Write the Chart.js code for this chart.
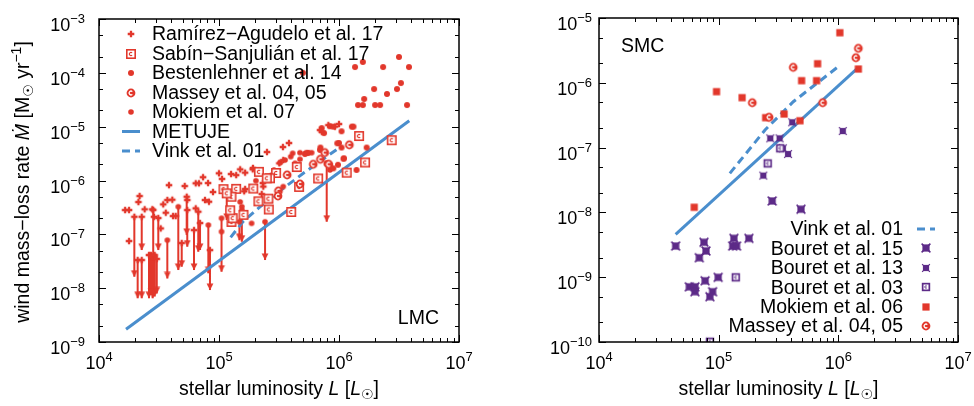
<!DOCTYPE html>
<html>
<head>
<meta charset="utf-8">
<script src="https://cdn.jsdelivr.net/npm/chart.js@4/dist/chart.umd.min.js"></script>
<style>
  html, body { margin: 0; padding: 0; background: #fff; }
  #wrap { position: relative; width: 974px; height: 406px; }
  canvas { position: absolute; top: 0; }
</style>
</head>
<body>
<div id="wrap">
  <canvas id="lmc" width="487" height="406" style="left:0"></canvas>
  <canvas id="smc" width="487" height="406" style="left:487px"></canvas>
</div>
<script>
// ---- axes ----
const xTicks = [1e4, 1e5, 1e6, 1e7];
const lmcYTicks = [1e-9, 1e-8, 1e-7, 1e-6, 1e-5, 1e-4, 1e-3];
const smcYTicks = [1e-10, 1e-9, 1e-8, 1e-7, 1e-6, 1e-5];
const xMinorFactors = [2, 3, 4, 5, 6, 7, 8, 9];
const yMinorFactors = [2, 5];

// ---- LMC data [L, Mdot] ----
const lmcRamirez = [
  [1.65e4,2.83e-7],[1.78e4,2.83e-7],[1.78e4,7.5e-8],[2.18e4,5.15e-7],[2.13e4,3.98e-7],[2.4e4,2.92e-7],
  [2.78e4,2.92e-7],[2.87e4,2.12e-7],[3.27e4,1.29e-7],[3.43e4,3.61e-7],[3.6e4,2.52e-7],[3.83e4,8.2e-7],
  [3.71e4,4.34e-7],[4.08e4,4.4e-7],[4.14e4,2.19e-7],[4.36e4,2.19e-7],[5.18e4,7.9e-7],[5.44e4,4.34e-7],
  [6.4e4,8.87e-7],[6.81e4,8.87e-7],[7.36e4,1.15e-6],[7.64e4,4.34e-7],[6.4e4,3.04e-7],[8.25e4,4.04e-7],
  [1.0e5,1.36e-6],[1.06e5,1.07e-6],[1.26e5,1.32e-6],[1.5e5,1.61e-6],[1.65e5,1.4e-6],[1.62e5,6.3e-7],
  [1.65e5,6.95e-7],[1.91e5,1.61e-6],[2.27e5,5.6e-7],[2.34e5,7.7e-7],[2.32e5,8.98e-7],[2.51e5,3.38e-6],
  [3.18e5,2.09e-6],[3.43e5,2.4e-6],[3.83e5,4.97e-6],[3.41e5,4.19e-6],[7.18e5,8.06e-6],[6.95e5,8.67e-6],
  [8.15e5,1.07e-5],[9.26e5,1.0e-5],[1.0e6,1.12e-5],[8.91e4,6.1e-7],[8.1e4,8.98e-7],[1.39e5,1.26e-6],
  [1.92e5,1.71e-6],
  [1.97e4,2.12e-7],[2.1e4,3.33e-8],[2.27e4,2.12e-7],[2.27e4,3.33e-8],[2.61e4,4.13e-8],[2.71e4,4.13e-8],
  [2.8e4,3.8e-8],[2.91e4,4.13e-8],[3.03e4,3.5e-8],[2.83e4,2.83e-7],[3.12e4,2.01e-7],[4.89e4,6.9e-8],
  [5.38e4,5.0e-7],[5.44e4,2.83e-7],[6.19e4,1.2e-7],[6.72e4,2.63e-7],[6.95e4,1.62e-7],[8.41e4,5.1e-8]
];
const lmcSabin = [
  [2.15e5,1.45e-6],[2.99e5,1.38e-6],[2.66e5,1.1e-6],[4.45e5,1.78e-6],[6.7e5,1.09e-6],[4.65e5,7.6e-7],
  [4.0e5,2.6e-7],[2.6e5,2.9e-7],[2.13e5,4.1e-7],[1.93e5,7.1e-7],[1.39e5,7.0e-7],[1.09e5,6.9e-7],
  [1.27e5,1.7e-7],[1.3e5,2.0e-7],[1.6e5,2.3e-7],[2.58e5,4.6e-7],[1.27e5,5.0e-7],[1.24e5,2.8e-7],
  [1.16e6,1.4e-6],[1.65e6,2.16e-6],[1.47e6,6.7e-6],[2.75e6,5.6e-6],[1.16e5,5.78e-7],[2.5e5,1.1e-6]
];
const lmcBestenlehner = [
  [5.0e5,1.0e-4],[1.36e6,1.28e-4],[1.58e6,1.59e-4],[2.33e6,1.28e-4],[3.16e6,1.97e-4],[3.83e6,1.28e-4],
  [1.96e6,5.0e-5],[2.51e6,4.05e-5],[3.04e6,5.0e-5],[3.28e6,6.47e-5],[1.62e6,3.27e-5],[1.44e6,2.52e-5],
  [1.58e6,2.52e-5],[2.0e6,2.52e-5],[2.2e6,2.52e-5],[3.69e6,2.52e-5],
  [8.41e5,1.02e-5],[8.97e5,1.0e-5],[1.05e6,8.2e-6],[1.28e6,1.0e-5],[1.32e6,1.0e-5],[7.17e5,9.4e-6],
  [7.5e5,7.6e-6],[1.0e6,4.97e-6],[1.05e6,4.1e-6],[1.7e6,4.1e-6],[7.0e5,4.1e-6],[1.09e6,2.54e-6],
  [7.9e5,2.05e-6],[8.4e5,1.96e-6],[5.5e5,3.24e-6],[5.2e5,3.1e-6],[6.95e5,3.7e-6],[9.8e5,1.96e-6],
  [1.4e6,1.57e-6],[8.97e5,1.68e-6],[1.1e6,2.58e-6],[9.68e5,4.91e-6],[7.9e5,2.09e-6]
];
const lmcMassey = [
  [1.22e6,4.6e-6],[6.1e5,2.0e-6],[3.7e5,1.27e-6],[3.13e5,6.4e-7],[3.1e5,5.15e-7],[8.2e5,2.0e-6],
  [4.73e5,8.6e-7],[7.0e5,2.48e-6],[7.6e5,3.3e-6]
];
const lmcMokiem = [
  [2.03e5,9.9e-7],[2.75e5,1.26e-6],[2.87e5,1.57e-6],[3.22e5,2.14e-6],[3.55e5,2.4e-6],[3.96e5,2.77e-6],
  [4.3e5,2.09e-6],[4.73e5,3.28e-6],[5.31e5,3.28e-6],[5.55e5,3.28e-6],[5.92e5,3.28e-6],[4.11e5,3.2e-6],
  [4.73e5,2.48e-6],[8.41e5,1.57e-6],[2.66e5,1.17e-6],[3.43e5,7.7e-7],[4.57e5,8.2e-7],[4.73e5,7.7e-7],
  [1.87e5,1.6e-7],[1.55e5,3.26e-7],[1.05e5,1.12e-7],[3.71e4,7.8e-8],[4.58e4,3.26e-7],[8.15e4,1.49e-7],
  [1.05e5,1.99e-7],[1.48e5,1.71e-7],[1.55e5,2.83e-7],[2.42e5,1.71e-7],[1.2e5,2.83e-7],[1.5e5,4.0e-7]
];
// [L, upper end, arrow tip]
const lmcLimits = [
  [1.97e4,2.12e-7,1.63e-8],[2.1e4,3.33e-8,6.5e-9],[2.27e4,2.12e-7,5.1e-8],[2.27e4,3.33e-8,6.5e-9],
  [2.61e4,4.13e-8,6.5e-9],[2.71e4,4.13e-8,7.5e-9],[2.8e4,3.8e-8,6.5e-9],[2.91e4,4.13e-8,7.0e-9],
  [3.03e4,3.5e-8,8.0e-9],[2.83e4,2.83e-7,3.33e-8],[3.12e4,2.01e-7,5.1e-8],[3.71e4,7.8e-8,1.52e-8],
  [4.58e4,3.26e-7,2.17e-8],[4.89e4,6.9e-8,2.5e-8],[5.38e4,5.0e-7,9.7e-8],[5.44e4,2.83e-7,5.9e-8],
  [6.19e4,1.2e-7,2.17e-8],[6.72e4,2.63e-7,4.75e-8],[6.95e4,1.62e-7,5.1e-8],[8.15e4,1.49e-7,1.89e-8],
  [8.41e4,5.1e-8,9.2e-9],[1.05e5,1.99e-7,2.02e-8],[1.16e5,5.78e-7,1.85e-7],[1.48e5,1.71e-7,7.8e-8],
  [1.55e5,2.83e-7,7.3e-8],[2.42e5,1.71e-7,3.33e-8],[7.9e5,2.09e-6,1.71e-7]
];
const lmcMetuje = [[1.68e4,1.72e-9],[3.85e6,1.29e-5]];
const lmcVink = [[1.25e5,8.8e-8],[1.58e5,1.71e-7],[2.66e5,4.67e-7],[5.04e5,1.36e-6],[9.87e5,3.96e-6]];

// ---- SMC data [L, Mdot] ----
const smcMokiem = [
  [1.03e6,5.93e-6],[6.71e5,1.97e-6],[4.93e5,1.08e-6],[6.58e5,1.08e-6],[1.47e6,1.63e-6],[9.6e4,7.3e-7],
  [1.57e5,5.9e-7],[2.47e5,2.9e-7],[3.52e5,3.3e-7],[4.78e5,2.6e-7],[6.25e4,1.2e-8]
];
const smcMassey = [[1.47e6,3.4e-6],[1.4e6,2.44e-6],[4.2e5,1.73e-6],[1.91e5,4.93e-7],[2.64e5,2.94e-7],[7.4e5,4.93e-7]];
const smcBouret13 = [[4.12e5,2.46e-7],[2.7e5,1.39e-7],[3.23e5,1.39e-7],[3.8e5,7.96e-8],[2.36e5,3.7e-8],[1.09e6,1.8e-7],[3.44e5,9.75e-8]];
const smcBouret03 = [[2.57e5,5.7e-8],[3.27e5,9.75e-8],[1.39e5,9.96e-10],[8.45e4,1.01e-10]];
const smcBouret15 = [
  [2.8e5,1.5e-8],[4.87e5,1.12e-8],[4.37e4,3.03e-9],[7.54e4,3.46e-9],[7.83e4,2.54e-9],[6.89e4,2.0e-9],
  [1.34e5,3.98e-9],[1.31e5,3.03e-9],[1.41e5,3.03e-9],[1.79e5,3.98e-9],[9.9e4,9.96e-10],[7.7e4,8.8e-10],
  [5.68e4,7.1e-10],[6.33e4,7.1e-10],[6.33e4,5.97e-10],[8.9e4,5.97e-10],[8.45e4,5.0e-10]
];
const smcMetuje = [[4.37e4,4.59e-9],[1.42e6,1.63e-6]];
const smcVink = [[1.24e5,4.0e-8],[2.44e5,1.87e-7],[4.2e5,5.1e-7],[9.8e5,1.73e-6]];

const FONT = "'Liberation Sans', Arial, 'DejaVu Sans', sans-serif";
const RED = '#e2372b', BLUE = '#4a8ecd', PURPLE = '#5d2b88';

// marker glyphs
function glyph(w, h, draw) {
  const c = document.createElement('canvas');
  c.width = w; c.height = h;
  const g = c.getContext('2d');
  g.translate(w / 2, h / 2);
  draw(g);
  return c;
}
const cArc = (g, r, col, lw) => { g.strokeStyle = col; g.lineWidth = lw; g.beginPath(); g.arc(0, 0, r, 0.8, 2 * Math.PI - 0.8); g.stroke(); };
const disc = (g, r, col) => { g.fillStyle = col; g.beginPath(); g.arc(0, 0, r, 0, 2 * Math.PI); g.fill(); };
const cross = (g, r, lw, col) => { g.strokeStyle = col; g.lineWidth = lw; g.beginPath(); g.moveTo(-r, -r); g.lineTo(r, r); g.moveTo(r, -r); g.lineTo(-r, r); g.stroke(); };

const plusImg = glyph(10, 10, g => { g.strokeStyle = RED; g.lineWidth = 2.3; g.beginPath(); g.moveTo(-3.3, 0); g.lineTo(3.3, 0); g.moveTo(0, -3.3); g.lineTo(0, 3.3); g.stroke(); });
const sabinImg = glyph(12, 12, g => { g.fillStyle = '#fff'; g.fillRect(-4.2, -4.2, 8.4, 8.4); g.strokeStyle = RED; g.lineWidth = 1.6; g.strokeRect(-4.2, -4.2, 8.4, 8.4); cArc(g, 1.6, RED, 1.2); });
const dotImg = glyph(8, 8, g => disc(g, 3.0, RED));
const dotSmallImg = glyph(8, 8, g => disc(g, 2.8, RED));
const masseyImg = glyph(12, 12, g => { disc(g, 4.4, RED); cArc(g, 1.9, '#fff', 1.3); });
const squareImg = glyph(10, 10, g => { g.fillStyle = RED; g.fillRect(-3.6, -3.6, 7.2, 7.2); });
const b15Img = glyph(12, 12, g => { g.fillStyle = PURPLE; g.fillRect(-3.6, -3.6, 7.2, 7.2); cross(g, 4.4, 1.5, PURPLE); });
const b13Img = glyph(12, 12, g => { g.fillStyle = PURPLE; g.fillRect(-3.1, -3.1, 6.2, 6.2); cross(g, 3.9, 1.1, PURPLE); });
const b03Img = glyph(12, 12, g => { g.fillStyle = PURPLE; g.fillRect(-4.2, -4.2, 8.4, 8.4); g.fillStyle = '#fff'; g.fillRect(-2.5, -2.5, 5, 5); cArc(g, 1.2, PURPLE, 1); });
const headImg = glyph(8, 14, g => { g.fillStyle = RED; g.beginPath(); g.moveTo(-3.4, -6.5); g.lineTo(3.4, -6.5); g.lineTo(0, 0); g.closePath(); g.fill(); });

const pts = arr => arr.map(([x, y]) => ({ x, y }));
const limitSegments = arr => arr.flatMap(([x, top, tip]) => [{ x, y: top }, { x, y: tip }, { x, y: null }]);
const limitTips = arr => arr.map(([x, top, tip]) => ({ x, y: tip }));

function markers(label, arr, img, order) {
  return { label, data: pts(arr), pointStyle: img, pointRadius: 4, order };
}
function curve(label, arr, dash, order) {
  return { label, data: pts(arr), showLine: true, borderColor: BLUE, borderWidth: 3, borderDash: dash,
           borderCapStyle: 'butt', pointRadius: 0, order };
}

// rich text: segments [text, kind]  kind: n, i, sub, sup
function richText(ctx, segs, x, y, size, align) {
  const parts = segs.map(([t, k]) => {
    const s = (k === 'sub' || k === 'sup') ? size * 0.72 : size;
    const font = (k === 'i' ? 'italic ' : '') + s + 'px ' + FONT;
    ctx.font = font;
    return { t, font, w: ctx.measureText(t).width, dy: k === 'sub' ? 4 : (k === 'sup' ? -8 : 0) };
  });
  const total = parts.reduce((s, p) => s + p.w, 0);
  let cx = align === 'center' ? x - total / 2 : (align === 'right' ? x - total : x);
  ctx.textAlign = 'left';
  ctx.textBaseline = 'alphabetic';
  parts.forEach(p => { ctx.font = p.font; ctx.fillText(p.t, cx, y + p.dy); cx += p.w; });
}
function drawPow(ctx, v, x, y, align) {
  const e = Math.round(Math.log10(v));
  richText(ctx, [['10', 'n'], [e < 0 ? '\u2212' + (-e) : String(e), 'sup']], x, y, 18, align);
}

const xTitle = [['stellar luminosity ', 'n'], ['L', 'i'], [' [', 'n'], ['L', 'i'], ['\u2609', 'sub'], [']', 'n']];
const yTitle = [['wind mass\u2212loss rate ', 'n'], ['\u1E40', 'i'], [' [M', 'n'], ['\u2609', 'sub'], [' yr', 'n'], ['\u22121', 'sup'], [']', 'n']];

const gnuAxes = {
  id: 'gnuAxes',
  afterDatasetsDraw(chart, args, o) {
    const { ctx, chartArea: a } = chart;
    const xs = chart.scales.x, ys = chart.scales.y;
    ctx.save();
    ctx.strokeStyle = '#000';
    ctx.fillStyle = '#000';
    ctx.lineWidth = 1;
    ctx.beginPath();
    const vTick = (v, len) => {
      const p = Math.round(xs.getPixelForValue(v)) + 0.5;
      ctx.moveTo(p, a.bottom); ctx.lineTo(p, a.bottom - len);
      ctx.moveTo(p, a.top); ctx.lineTo(p, a.top + len);
    };
    const hTick = (v, len) => {
      const p = Math.round(ys.getPixelForValue(v)) + 0.5;
      ctx.moveTo(a.left, p); ctx.lineTo(a.left + len, p);
      ctx.moveTo(a.right, p); ctx.lineTo(a.right - len, p);
    };
    xTicks.forEach((v, i) => {
      vTick(v, 7);
      if (i < xTicks.length - 1) xMinorFactors.forEach(f => vTick(v * f, 4));
    });
    o.yTicks.forEach((v, i) => {
      hTick(v, 7);
      if (i < o.yTicks.length - 1) yMinorFactors.forEach(f => hTick(v * f, 4));
    });
    ctx.stroke();
    ctx.lineWidth = 1.5;
    ctx.strokeRect(a.left, a.top, a.right - a.left, a.bottom - a.top);

    xTicks.forEach(v => drawPow(ctx, v, xs.getPixelForValue(v), a.bottom + 27, 'center'));
    o.yTicks.forEach(v => drawPow(ctx, v, a.left - o.yLabelGap, ys.getPixelForValue(v) + 12, 'right'));

    richText(ctx, xTitle, (a.left + a.right) / 2, a.bottom + 53, 19.5, 'center');
    ctx.save();
    ctx.translate(o.yTitleX, o.yTitleY);
    ctx.rotate(-Math.PI / 2);
    richText(ctx, yTitle, 0, 0, 19.5, 'center');
    ctx.restore();

    // panel name
    ctx.font = '19.5px ' + FONT;
    ctx.textAlign = o.panel.align;
    ctx.textBaseline = 'alphabetic';
    const px = o.panel.align === 'right' ? a.right + o.panel.dx : a.left + o.panel.dx;
    const py = o.panel.fromBottom ? a.bottom + o.panel.dy : a.top + o.panel.dy;
    ctx.fillText(o.panel.text, px, py);

    // key
    const L = o.key;
    const mx = L.align === 'left' ? a.left + L.markerDx : a.right + L.markerDx;
    const tx = L.align === 'left' ? a.left + L.textDx : a.right + L.textDx;
    L.entries.forEach((e, i) => {
      const y = a.top + L.y0 + i * L.dy;
      if (e.img) {
        ctx.drawImage(e.img, Math.round(mx - e.img.width / 2), Math.round(y - e.img.height / 2));
      } else {
        ctx.save();
        ctx.strokeStyle = BLUE; ctx.lineWidth = 3; ctx.lineCap = 'butt';
        ctx.setLineDash(e.dash);
        ctx.beginPath(); ctx.moveTo(mx - 9, y); ctx.lineTo(mx + 9, y); ctx.stroke();
        ctx.restore();
      }
      ctx.fillStyle = '#000';
      ctx.font = '19.5px ' + FONT;
      ctx.textAlign = L.align;
      ctx.textBaseline = 'middle';
      ctx.fillText(e.label, tx, y + 1);
    });
    ctx.restore();
  }
};

function panelOptions(yTicks, padding, axes) {
  return {
    responsive: false,
    animation: false,
    devicePixelRatio: 1,
    events: [],
    layout: { padding },
    scales: {
      x: { type: 'logarithmic', min: xTicks[0], max: xTicks[xTicks.length - 1], display: false },
      y: { type: 'logarithmic', min: yTicks[0], max: yTicks[yTicks.length - 1], display: false }
    },
    plugins: { legend: { display: false }, tooltip: { enabled: false }, gnuAxes: axes }
  };
}

new Chart(document.getElementById('lmc'), {
  type: 'scatter',
  data: {
    datasets: [
      markers('Ramírez−Agudelo et al. 17', lmcRamirez, plusImg, 3),
      markers('Sabín−Sanjulián et al. 17', lmcSabin, sabinImg, 2),
      markers('Bestenlehner et al. 14', lmcBestenlehner, dotImg, 4),
      markers('Massey et al. 04, 05', lmcMassey, masseyImg, 1),
      markers('Mokiem et al. 07', lmcMokiem, dotSmallImg, 4),
      curve('METUJE', lmcMetuje, [], 6),
      curve('Vink et al. 01', lmcVink, [8, 5], 6),
      { label: 'limits', data: limitSegments(lmcLimits), showLine: true, spanGaps: false, borderColor: RED,
        borderWidth: 2, pointRadius: 0, order: 9 },
      { label: 'tips', data: limitTips(lmcLimits), pointStyle: headImg, pointRadius: 4, order: 8 }
    ]
  },
  options: panelOptions(lmcYTicks, { left: 99, right: 28, top: 19, bottom: 64 }, {
    yTicks: lmcYTicks, yLabelGap: 14, yTitleX: 29, yTitleY: 182,
    panel: { text: 'LMC', align: 'right', dx: -20, dy: -18, fromBottom: true },
    key: {
      align: 'left', markerDx: 32, textDx: 53, y0: 15, dy: 19.5,
      entries: [
        { label: 'Ramírez\u2212Agudelo et al. 17', img: plusImg },
        { label: 'Sabín\u2212Sanjulián et al. 17', img: sabinImg },
        { label: 'Bestenlehner et al. 14', img: dotImg },
        { label: 'Massey et al. 04, 05', img: masseyImg },
        { label: 'Mokiem et al. 07', img: dotSmallImg },
        { label: 'METUJE', dash: [] },
        { label: 'Vink et al. 01', dash: [8, 5] }
      ]
    }
  }),
  plugins: [gnuAxes]
});

new Chart(document.getElementById('smc'), {
  type: 'scatter',
  data: {
    datasets: [
      markers('Bouret et al. 15', smcBouret15, b15Img, 3),
      markers('Bouret et al. 13', smcBouret13, b13Img, 3),
      markers('Bouret et al. 03', smcBouret03, b03Img, 2),
      markers('Mokiem et al. 06', smcMokiem, squareImg, 2),
      markers('Massey et al. 04, 05', smcMassey, masseyImg, 1),
      curve('METUJE', smcMetuje, [], 6),
      curve('Vink et al. 01', smcVink, [8, 5], 6)
    ]
  },
  options: panelOptions(smcYTicks, { left: 112, right: 16, top: 18, bottom: 64 }, {
    yTicks: smcYTicks, yLabelGap: 7, yTitleX: 530, yTitleY: 178,
    panel: { text: 'SMC', align: 'left', dx: 22, dy: 34, fromBottom: false },
    key: {
      align: 'right', markerDx: -32, textDx: -55, y0: 211, dy: 19.4,
      entries: [
        { label: 'Vink et al. 01', dash: [8, 5] },
        { label: 'Bouret et al. 15', img: b15Img },
        { label: 'Bouret et al. 13', img: b13Img },
        { label: 'Bouret et al. 03', img: b03Img },
        { label: 'Mokiem et al. 06', img: squareImg },
        { label: 'Massey et al. 04, 05', img: masseyImg }
      ]
    }
  }),
  plugins: [gnuAxes]
});
</script>
</body>
</html>
